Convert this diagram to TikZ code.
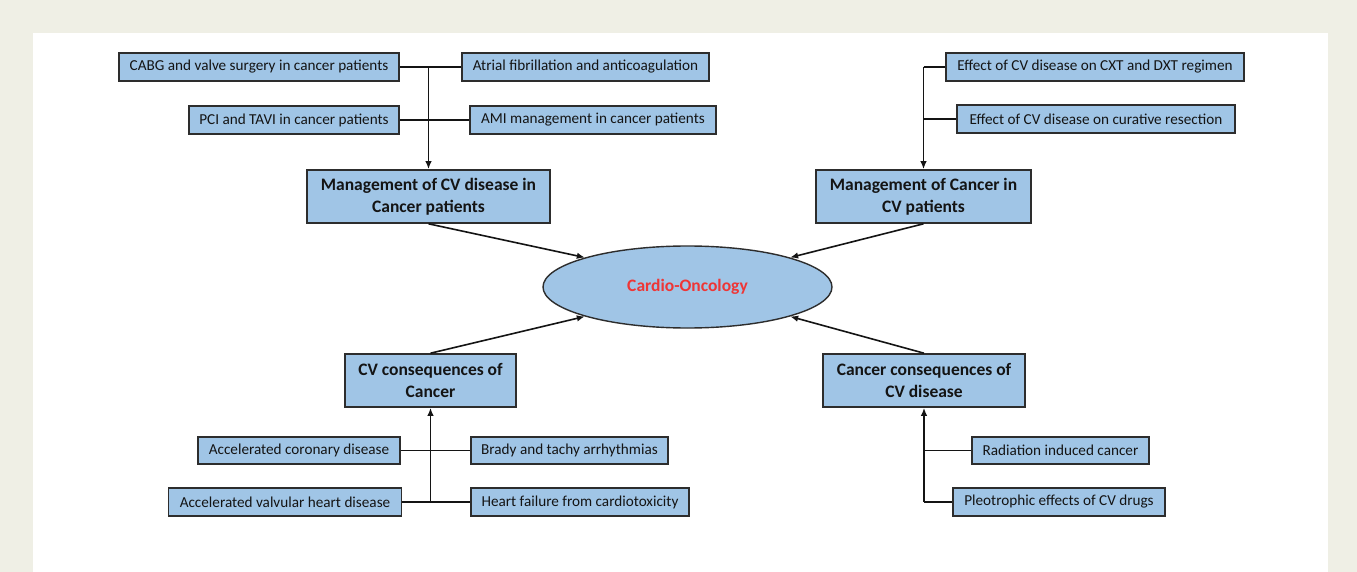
\documentclass[tikz,border=0pt]{standalone}
\usepackage{fontspec}
\setmainfont{Carlito}
\usetikzlibrary{shapes.geometric,arrows.meta}
\definecolor{bgbeige}{RGB}{239,239,229}
\definecolor{boxblue}{RGB}{160,197,230}
\definecolor{boxline}{RGB}{45,45,45}
\definecolor{txt}{RGB}{20,20,20}
\definecolor{cored}{RGB}{238,54,54}
\tikzset{
  smallbox/.style={draw=boxline, line width=1.6pt, fill=boxblue, inner sep=0pt, text=txt,
    font=\fontsize{15.2}{18}\selectfont, minimum height=28pt},
  mainbox/.style={draw=boxline, line width=1.6pt, fill=boxblue, inner sep=0pt, text=txt,
    font=\fontsize{17.5}{21.5}\selectfont\bfseries, align=center, minimum height=53pt},
  conn/.style={draw=txt, line width=1.6pt},
  arr/.style={conn, -{Latex[length=8pt,width=6.5pt]}}
}
\begin{document}
\begin{tikzpicture}[x=1pt,y=-1pt]
\useasboundingbox (0,0) rectangle (1357,572);
\fill[bgbeige] (0,0) rectangle (1357,572);
\fill[white] (33,33) rectangle (1328,572);

% top-left group
\node[smallbox, minimum width=280pt] (cabg) at (259,67) {CABG and valve surgery in cancer patients};
\node[smallbox, minimum width=210pt] (pci) at (294,120) {PCI and TAVI in cancer patients};
\node[smallbox, minimum width=247pt] (afib) at (585.5,67) {Atrial fibrillation and anticoagulation};
\node[smallbox, minimum width=246pt] (ami) at (593,120) {AMI management in cancer patients};
\node[mainbox, minimum width=243pt] (m1) at (428.5,196.5) {Management of CV disease in\\Cancer patients};

% top-right group
\node[smallbox, minimum width=298pt] (cxt) at (1095,67) {Effect of CV disease on CXT and DXT regimen};
\node[smallbox, minimum width=278pt] (cur) at (1096,119) {Effect of CV disease on curative resection};
\node[mainbox, minimum width=215pt] (m2) at (923.5,196.5) {Management of Cancer in\\CV patients};

% centre
\node[ellipse, draw=boxline, line width=1.4pt, fill=boxblue, minimum width=289pt, minimum height=82pt,
  inner sep=0pt, text=cored, font=\fontsize{17.5}{21.5}\selectfont\bfseries] (ell) at (687.5,287) {Cardio-Oncology};

% bottom-left group
\node[mainbox, minimum width=171pt] (c1) at (430.5,380.5) {CV consequences of\\Cancer};
\node[smallbox, minimum width=202pt, minimum height=27pt] (acd) at (299,450.5) {Accelerated coronary disease};
\node[smallbox, minimum width=197pt, minimum height=27pt] (brady) at (569.5,450.5) {Brady and tachy arrhythmias};
\node[smallbox, minimum width=233pt] (avhd) at (285,502) {Accelerated valvular heart disease};
\node[smallbox, minimum width=218pt] (hf) at (580,502) {Heart failure from cardiotoxicity};

% bottom-right group
\node[mainbox, minimum width=202pt] (c2) at (924,380.5) {Cancer consequences of\\CV disease};
\node[smallbox, minimum width=177pt, minimum height=27pt] (rad) at (1060.5,450.5) {Radiation induced cancer};
\node[smallbox, minimum width=212pt] (pleo) at (1059,502) {Pleotrophic effects of CV drugs};

% junction coordinates
\coordinate (j1) at (m1.north |- cabg.east);
\coordinate (j2) at (m2.north |- cxt.west);
\coordinate (j2b) at (m2.north |- cur.west);
\coordinate (j3) at (c1.south |- avhd.east);
\coordinate (j4) at (c2.south |- pleo.west);
\coordinate (j4b) at (c2.south |- rad.west);

% top-left connectors
\draw[conn] (cabg.east) -- (afib.west);
\draw[conn] (pci.east) -- (ami.west);
\draw[arr] (j1) -- (m1.north);

% top-right connectors
\draw[conn] (j2) -- (cxt.west);
\draw[conn] (j2b) -- (cur.west);
\draw[arr] (j2) -- (m2.north);

% bottom-left connectors
\draw[conn] (acd.east) -- (brady.west);
\draw[conn] (avhd.east) -- (hf.west);
\draw[arr] (j3) -- (c1.south);

% bottom-right connectors
\draw[conn] (j4b) -- (rad.west);
\draw[conn] (j4) -- (pleo.west);
\draw[arr] (j4) -- (c2.south);

% diagonals to centre
\draw[arr] (m1.south) -- (ell.north west);
\draw[arr] (m2.south) -- (ell.north east);
\draw[arr] (c1.north) -- (ell.south west);
\draw[arr] (c2.north) -- (ell.south east);
\end{tikzpicture}
\end{document}
